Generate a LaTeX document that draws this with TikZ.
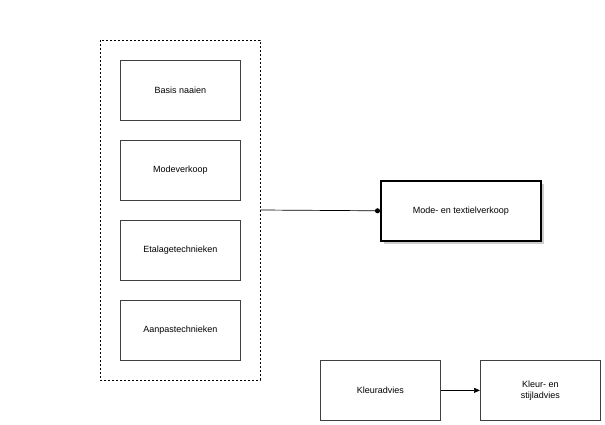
\documentclass[tikz,border=0pt]{standalone}
\usepackage{fontspec}
\setmainfont{Liberation Sans}
\usetikzlibrary{arrows.meta,shadows}
\begin{document}
\begin{tikzpicture}[x=1pt,y=-1pt,
  box/.style={draw=black!75,line width=0.8pt,rectangle,minimum width=120pt,minimum height=60pt,align=center,font=\fontsize{9}{11}\selectfont,anchor=north west,inner sep=0pt},
  outer/.style={draw=black,line width=0.6pt,dashed,dash pattern=on 2pt off 2pt},
  conn/.style={draw=black,line width=0.7pt}]
\useasboundingbox (0,0) rectangle (605,425);
\draw[outer] (100,40) rectangle (260,380);
\coordinate (c) at (260,210);
\node[box] (a) at (120,60) {Basis naaien};
\node[box] (b) at (120,140) {Modeverkoop};
\node[box] (e) at (120,220) {Etalagetechnieken};
\node[box] (f) at (120,300) {Aanpastechnieken};
\node[box,minimum width=160pt,line width=1.6pt,draw=black,fill=white,drop shadow={shadow xshift=3pt,shadow yshift=-3pt,opacity=0.4}] (m) at (380,180) {Mode- en textielverkoop};
\node[box] (k) at (320,360) {Kleuradvies};
\node[box] (s) at (480,360) {Kleur- en\\stijladvies};
\draw[conn,-{Circle[length=5pt]}] (c) -- (m.west);
\draw[conn,-{Triangle[length=6pt,width=5pt]}] (k) -- (s);
\end{tikzpicture}
\end{document}
